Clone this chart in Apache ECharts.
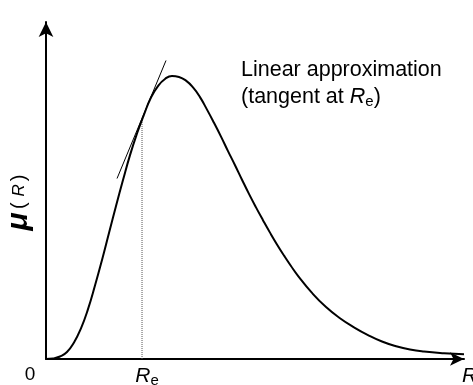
<!DOCTYPE html>
<html>
<head>
<meta charset="utf-8">
<script src="https://cdn.jsdelivr.net/npm/echarts@6/dist/echarts.min.js"></script>
<style>html,body{margin:0;padding:0;background:#fff}#c{width:473px;height:385px}</style>
</head>
<body>
<div id="c"></div>
<script>
// Curve mu(R) (x: 0..100 along R axis, y: 0..100 along mu axis)
const curveX = [0, 1.67, 3.35, 5.02, 6.70, 8.37, 10.05, 11.72, 13.40, 15.07, 16.75, 18.42, 20.10, 21.77, 23.44, 25.12, 26.79, 28.47, 30.14, 31.82, 33.49, 35.17, 36.84, 38.52, 40.19, 41.87, 43.54, 45.22, 46.89, 48.56, 50.24, 51.91, 53.59, 55.26, 56.94, 58.61, 60.29, 63.64, 66.99, 70.33, 73.68, 77.03, 80.38, 83.73, 87.08, 90.43, 95.22, 100];
const curveY = [0, 0.15, 0.74, 2.08, 4.9, 9.1, 14.8, 21.8, 29.4, 37.4, 45.4, 53.1, 60.5, 66.9, 72.5, 77.6, 81.0, 83.1, 84.0, 83.7, 82.6, 80.6, 77.7, 74.0, 70.1, 66.0, 61.7, 57.5, 53.2, 49.0, 45.0, 41.2, 37.5, 34.0, 30.7, 27.6, 24.7, 19.6, 15.4, 12.1, 9.4, 7.1, 5.2, 3.8, 2.8, 2.2, 1.7, 1.4];
// Tangent line at Re
const tangentX = [16.99, 28.71];
const tangentY = [53.56, 88.58];
// Re position
const Re = 22.97;
const ReY = 71.2;
const xMax = 100;
const yMax = 100;

const curveData = curveX.map((x, i) => [x, curveY[i]]);
const tangentData = tangentX.map((x, i) => [x, tangentY[i]]);
const dropData = [[Re, 0], [Re, ReY]];

const chart = echarts.init(document.getElementById('c'), null, {renderer: 'canvas'});
const FONT = 'Liberation Sans, Arial, Helvetica, sans-serif';
chart.setOption({
  animation: false,
  backgroundColor: '#fff',
  grid: {left: 46, right: 9, top: 22, bottom: 26, containLabel: false, outerBoundsMode: 'none'},
  xAxis: {
    type: 'value', min: 0, max: xMax,
    splitLine: {show: false},
    axisTick: {show: false},
    axisLine: {show: true, onZero: false, symbol: ['none', 'arrow'], symbolSize: [10, 14], lineStyle: {color: '#000', width: 2}},
    name: 'R',
    nameLocation: 'end',
    nameGap: -2,
    nameTextStyle: {fontSize: 21, fontFamily: FONT, fontStyle: 'italic', color: '#000', verticalAlign: 'top', align: 'left', padding: [7, 0, 0, 0]},
    axisLabel: {
      show: true,
      customValues: [0, Re],
      margin: 6,
      fontFamily: FONT,
      color: '#000',
      formatter: function (v) {
        if (v === 0) return '{z|0}';
        return '{r|R}{s|e}';
      },
      rich: {
        z: {fontSize: 19, fontFamily: FONT, color: '#000', padding: [0, 32, 0, 0]},
        r: {fontSize: 21, fontFamily: FONT, fontStyle: 'italic', color: '#000', padding: [0, 0, 0, 10]},
        s: {fontSize: 15, fontFamily: FONT, color: '#000', padding: [8, 0, 0, 0]}
      }
    }
  },
  yAxis: {
    type: 'value', min: 0, max: yMax,
    splitLine: {show: false},
    axisTick: {show: false},
    axisLabel: {show: false},
    axisLine: {show: true, symbol: ['none', 'arrow'], symbolSize: [11, 15], lineStyle: {color: '#000', width: 2}},
    name: '{m|μ} {p|(}{r|R}{p|)}',
    nameLocation: 'middle',
    nameRotate: 90,
    nameGap: 12,
    nameTextStyle: {
      fontFamily: FONT, color: '#000',
      padding: [0, 24, 0, 0],
      rich: {
        m: {fontSize: 30, fontWeight: 'bold', fontStyle: 'italic', fontFamily: FONT, color: '#000'},
        p: {fontSize: 20, fontFamily: FONT, color: '#000'},
        r: {fontSize: 17, fontStyle: 'italic', fontFamily: FONT, color: '#000', padding: [0, 3, 0, 6]}
      }
    }
  },
  series: [
    {
      type: 'line', data: curveData, smooth: 0.5, symbol: 'none',
      lineStyle: {color: '#000', width: 2}, z: 3
    },
    {
      type: 'line', data: tangentData, symbol: 'none',
      lineStyle: {color: '#000', width: 1}, z: 4
    },
    {
      type: 'line', data: dropData, symbol: 'none',
      lineStyle: {color: '#555', width: 1, type: 'dotted'}, z: 2
    }
  ],
  graphic: [
    {
      type: 'text', left: 241, top: 57, silent: true,
      style: {
        text: 'Linear approximation\n(tangent at {i|R}{s|e})',
        fontSize: 21.5, lineHeight: 27, fontFamily: FONT, fill: '#000',
        rich: {
          i: {fontSize: 21.5, fontStyle: 'italic', fontFamily: FONT, fill: '#000'},
          s: {fontSize: 15, fontFamily: FONT, fill: '#000', padding: [8, 0, 0, 0]}
        }
      }
    }
  ]
});
</script>
</body>
</html>
